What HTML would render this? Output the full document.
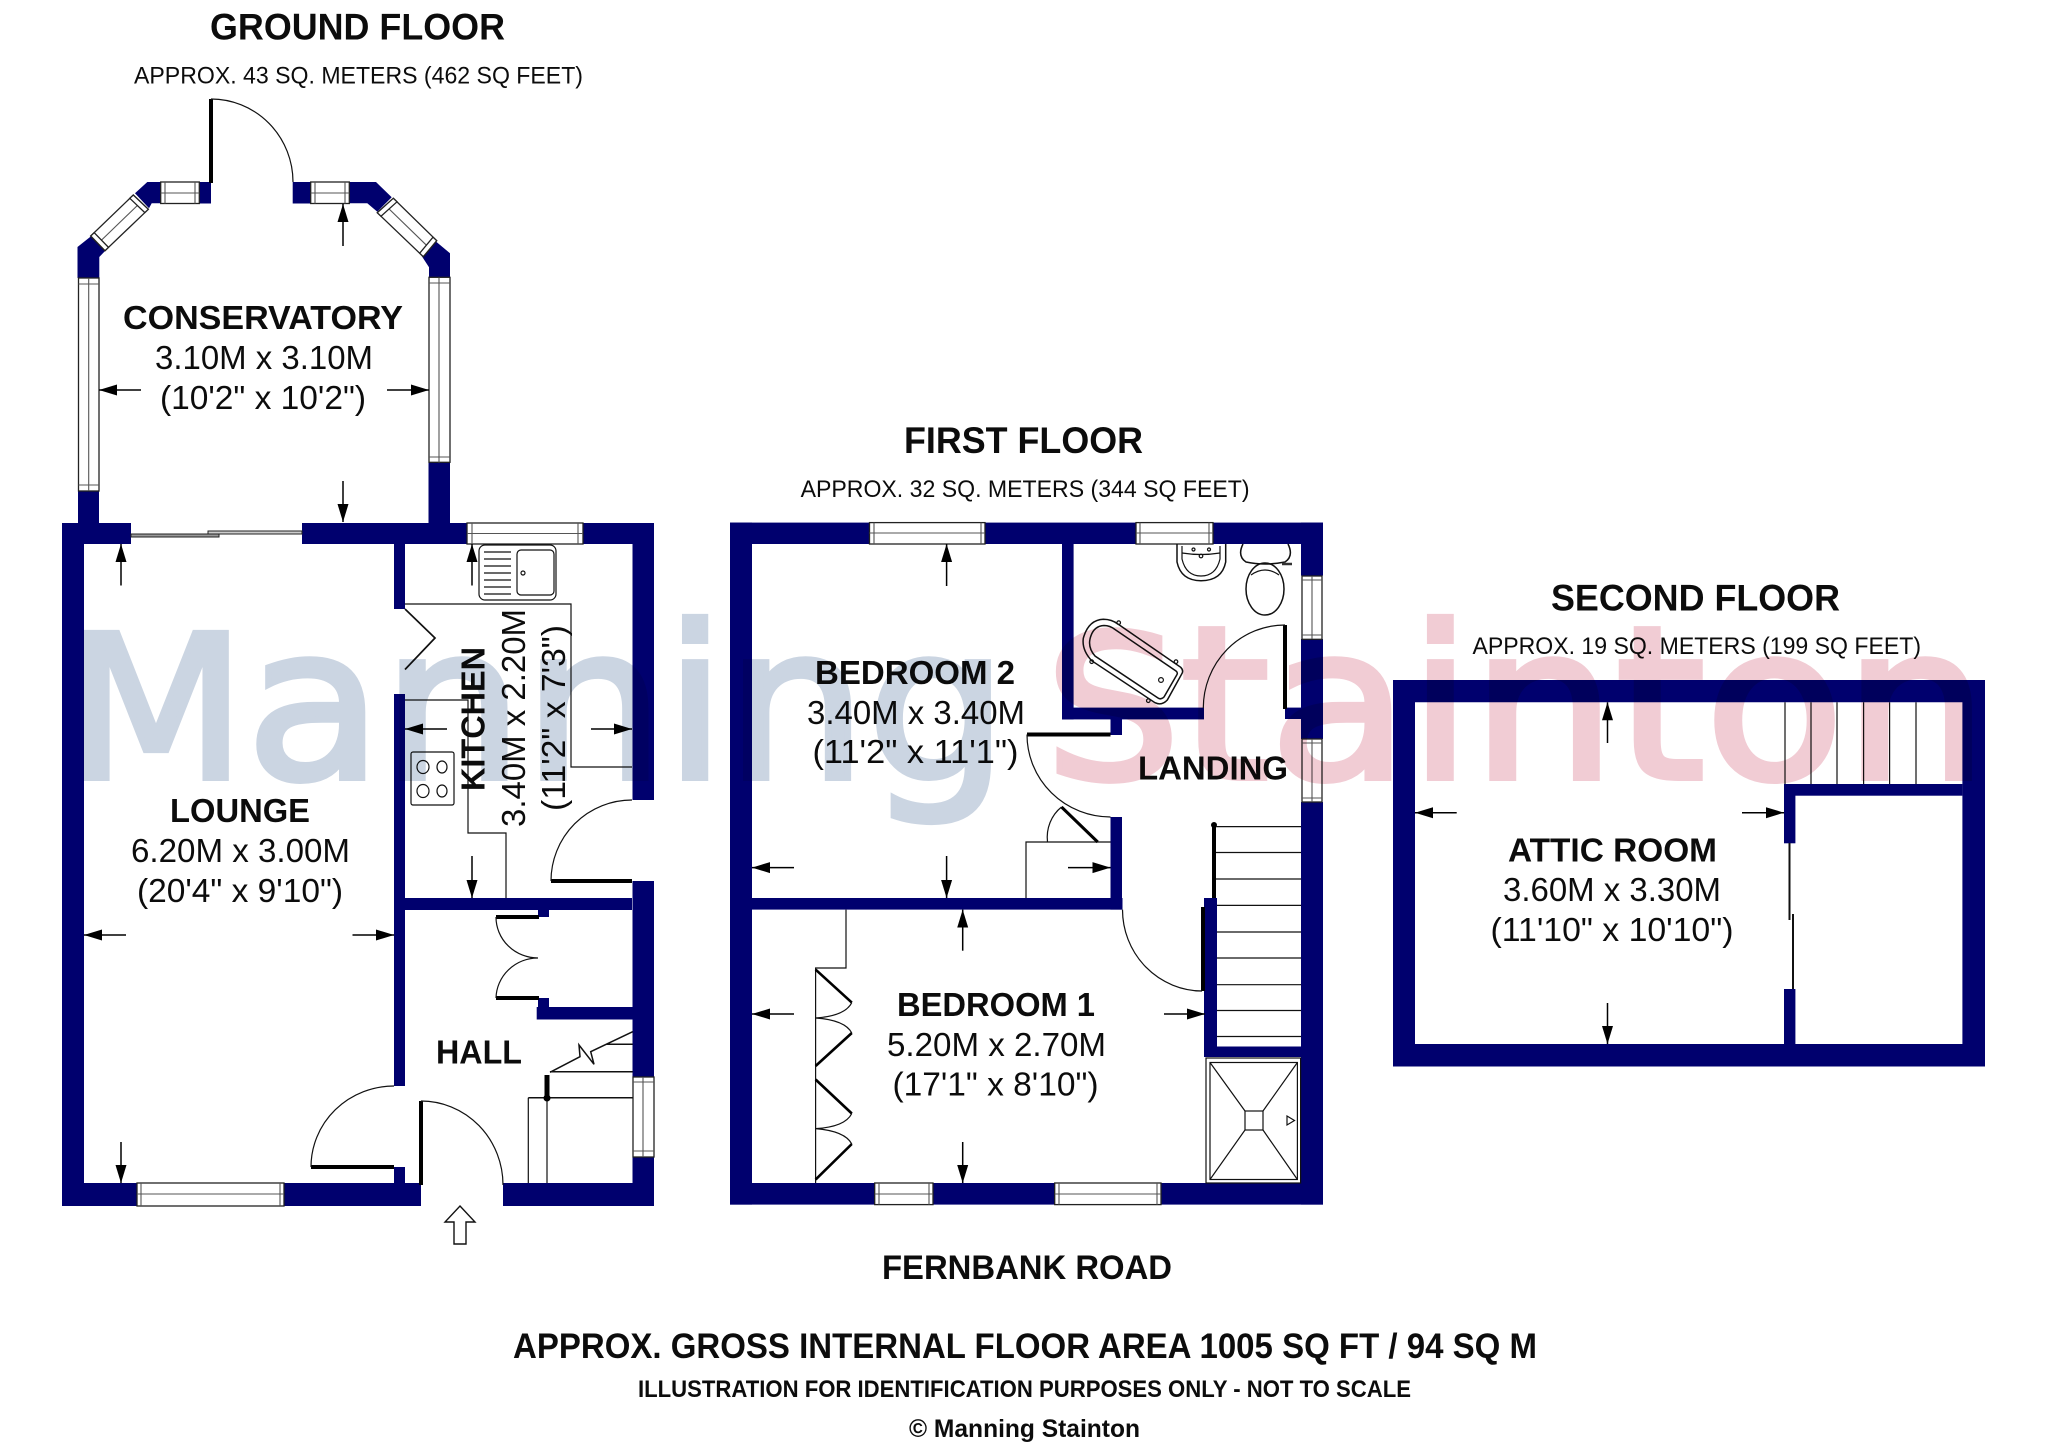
<!DOCTYPE html>
<html><head><meta charset="utf-8"><title>Floor plan</title>
<style>
html,body{margin:0;padding:0;background:#fff}
svg{display:block}
text{font-family:"Liberation Sans",Arial,sans-serif;fill:#0c0c0c}
.b{font-weight:bold}
.w{fill:#00006e;stroke:none}
.l{fill:none;stroke:#111;stroke-width:1.2}
.t{fill:none;stroke:#000;stroke-width:4}
.win{fill:#fff;stroke:#222;stroke-width:1.3}
.wl{fill:none;stroke:#555;stroke-width:1.1}
.ar{fill:none;stroke:#000;stroke-width:1.5;marker-end:url(#a)}
.wm{mix-blend-mode:multiply}
.wm text{font-family:"DejaVu Sans",sans-serif}
</style></head><body>
<svg xmlns="http://www.w3.org/2000/svg" width="2048" height="1454" viewBox="0 0 2048 1454">
<defs><marker id="a" markerUnits="userSpaceOnUse" markerWidth="20" markerHeight="12" refX="18" refY="6" orient="auto"><path d="M0,0.5 L18,6 L0,11.5Z" fill="#000"/></marker></defs>
<rect width="2048" height="1454" fill="#fff"/>

<!-- GROUND FLOOR: conservatory -->
<g>
<rect class="w" x="78" y="491" width="21" height="34"/>
<path class="w" d="M77.5,247 L77.5,278 L99.3,278 L99.3,257 L106,250 L90.7,236.5Z"/>
<path class="w" d="M135,193.3 L147.3,182 L160.7,182 L160.7,203.3 L151.7,203.3 L149,208.3Z"/>
<rect class="w" x="199.3" y="182" width="11.7" height="21.5"/>
<rect class="w" x="292.7" y="182" width="18" height="21.5"/>
<path class="w" d="M349.3,182 L376,182 L391.7,197.3 L377.3,211.7 L367.3,203.3 L349.3,203.3Z"/>
<path class="w" d="M435,240.7 L450,253.3 L450,277.3 L429,277.3 L429,267.3 L421.7,256Z"/>
<rect class="w" x="428.5" y="462.5" width="21.5" height="62"/>
<!-- conservatory windows -->
<rect class="win" x="78.5" y="278" width="20.5" height="213"/><path class="wl" d="M88.7,278V491M78.5,284H99M78.5,485H99"/>
<rect class="win" x="429" y="277.3" width="21" height="185"/><path class="wl" d="M439,277.5V462.5M429,283H450M429,457H450"/>
<rect class="win" x="160.7" y="182" width="38.6" height="21.5"/><path class="wl" d="M160.7,193H199.3M165,182V203.5M195,182V203.5"/>
<rect class="win" x="310.7" y="182" width="38.6" height="21.5"/><path class="wl" d="M310.7,193H349.3M315,182V203.5M345,182V203.5"/>
<path class="win" d="M90.7,236 L105,250.7 L148.3,209.3 L133.3,195Z"/><path class="wl" d="M98,243.5 L141,202"/><path class="win" d="M90.7,236 L105,250.7 L108.5,247.4 L94.2,232.7Z M133.3,195 L148.3,209.3 L144.8,212.6 L129.8,198.3Z"/>
<path class="win" d="M393.3,198.3 L377.3,212.7 L423.3,256.7 L436.7,240.7Z"/><path class="wl" d="M385.5,205.5 L430,248.7"/><path class="win" d="M393.3,198.3 L377.3,212.7 L381,216.2 L397,201.8Z M436.7,240.7 L423.3,256.7 L419.7,253.2 L433,237.2Z"/>
<!-- conservatory door -->
<path class="t" d="M211,99V183"/>
<path class="l" d="M211,99 A82,83 0 0 1 293,182"/>
</g>

<!-- GROUND FLOOR: main walls -->
<g>
<rect class="w" x="62" y="523" width="22" height="683"/>
<rect class="w" x="62" y="523" width="69" height="21"/>
<rect class="w" x="302" y="523" width="165" height="21"/>
<rect class="w" x="583" y="523" width="71" height="21"/>
<rect class="w" x="632.5" y="523" width="21.5" height="277"/>
<rect class="w" x="632.5" y="881" width="21.5" height="196"/>
<rect class="w" x="632.5" y="1157" width="21.5" height="49"/>
<rect class="w" x="62" y="1183" width="75" height="23"/>
<rect class="w" x="284" y="1183" width="137" height="23"/>
<rect class="w" x="503" y="1183" width="151" height="23"/>
<rect class="w" x="394" y="544" width="11" height="65"/>
<rect class="w" x="394" y="694" width="11" height="392"/>
<rect class="w" x="394" y="1167" width="11" height="16"/>
<rect class="w" x="405" y="898" width="227" height="12"/>
<rect class="w" x="538" y="910" width="11" height="7"/>
<rect class="w" x="538" y="998" width="11" height="10"/>
<rect class="w" x="536.7" y="1007" width="96" height="12.5"/>
<!-- slider -->
<rect x="131" y="534" width="88" height="3" fill="#999" stroke="#222" stroke-width="1"/>
<rect x="208" y="531" width="94" height="3" fill="#ccc" stroke="#222" stroke-width="1"/>
<!-- windows -->
<rect class="win" x="467" y="523" width="116" height="21"/><path class="wl" d="M467,533.5H583M472,523V544M578,523V544"/>
<rect class="win" x="137" y="1183" width="147" height="23"/><path class="wl" d="M137,1194H284M141,1183V1206M280,1183V1206"/>
<rect class="win" x="633" y="1077" width="21" height="80"/><path class="wl" d="M643,1077V1157M633,1082H654M633,1151H654"/>
<!-- doors -->
<path class="t" d="M311,1167H394"/><path class="l" d="M311,1167 A83,81 0 0 1 394,1086"/>
<path class="t" d="M421,1101V1185"/><path class="l" d="M421,1101 A82,84 0 0 1 503,1185"/>
<path class="t" d="M551,881H632"/><path class="l" d="M551,881 A81,81 0 0 1 632,800"/>
<!-- kitchen pocket -->
<path class="l" d="M405,609 L435,638 L405,669.5" style="stroke-width:1.7"/>
<!-- kitchen worktops -->
<path class="l" d="M405,604H571V767H632"/>
<path class="l" d="M405,700H468V833H506V898"/>
<!-- sink -->
<rect class="l" x="479" y="545" width="77" height="55" rx="6"/>
<rect class="l" x="517" y="550" width="37" height="45" rx="4"/>
<path class="l" d="M484,552H511M484,559H511M484,566H511M484,573H511M484,580H511M484,587H511M484,594H511"/>
<circle class="l" cx="523" cy="573" r="2"/>
<!-- hob -->
<rect class="l" x="411" y="752" width="43" height="53" rx="2"/>
<ellipse class="l" cx="423" cy="767" rx="6" ry="6.5"/><ellipse class="l" cx="442" cy="767" rx="5" ry="6"/>
<ellipse class="l" cx="423" cy="791" rx="6" ry="6.5"/><ellipse class="l" cx="442" cy="791" rx="5" ry="6"/>
<!-- hall cupboard doors -->
<path class="t" d="M496,917H539"/><path class="t" d="M496,998H539"/>
<path class="l" d="M496,917 A42,41 0 0 0 538,958 A42,41 0 0 0 496,998"/>
<!-- hall stairs -->
<path class="l" style="stroke-width:1.5" d="M550,1072.3 L580,1056.7 L579,1045 L594,1064.3 L590.7,1051.7 L632.7,1031.7M606.7,1044.3H632.7M550,1071.7H632.7M528.3,1097.7H632.7"/>
<path class="l" d="M528.3,1097.7V1183M547,1097.7V1183"/>
<path class="t" style="stroke-width:5" d="M547,1075V1098"/><circle cx="547" cy="1098" r="3.5" fill="#000"/>
<!-- entrance arrow -->
<path d="M460,1206 L475,1222 L466,1222 L466,1244 L454,1244 L454,1222 L445,1222Z" fill="#fff" stroke="#111" stroke-width="1.4"/>
</g>

<!-- FIRST FLOOR -->
<g>
<rect class="w" x="730" y="522.6" width="22" height="682"/>
<rect class="w" x="730" y="522.6" width="139.5" height="21.4"/>
<rect class="w" x="985" y="522.6" width="151" height="21.4"/>
<rect class="w" x="1213" y="522.6" width="110" height="21.4"/>
<rect class="w" x="1301" y="522.6" width="22" height="53"/>
<rect class="w" x="1301" y="639" width="22" height="100"/>
<rect class="w" x="1301" y="802" width="22" height="402.6"/>
<rect class="w" x="730" y="1183" width="144.7" height="21.6"/>
<rect class="w" x="933" y="1183" width="121.7" height="21.6"/>
<rect class="w" x="1161" y="1183" width="162" height="21.6"/>
<rect class="w" x="1062" y="544" width="11.6" height="175.5"/>
<rect class="w" x="1062" y="707.6" width="142" height="11.8"/>
<rect class="w" x="1285" y="707.6" width="16" height="11.4"/>
<rect class="w" x="1110.5" y="719" width="11.5" height="16"/>
<rect class="w" x="1110.5" y="817" width="11.5" height="92.6"/>
<rect class="w" x="752" y="898" width="370.5" height="11.6"/>
<rect class="w" x="1204" y="898" width="13" height="159"/>
<rect class="w" x="1204" y="1046.5" width="97" height="10.5"/>
<!-- windows -->
<rect class="win" x="869.5" y="522.6" width="115.5" height="21.4"/><path class="wl" d="M869.5,533H985M874,522.6V544M981,522.6V544"/>
<rect class="win" x="1136" y="522.6" width="77" height="21.4"/><path class="wl" d="M1136,533H1213M1140,522.6V544M1209,522.6V544"/>
<rect class="win" x="874.7" y="1183" width="58.3" height="21.6"/><path class="wl" d="M874.7,1194H933M879,1183V1204.6M929,1183V1204.6"/>
<rect class="win" x="1054.7" y="1183" width="106.3" height="21.6"/><path class="wl" d="M1054.7,1194H1161M1059,1183V1204.6M1157,1183V1204.6"/>
<rect class="win" x="1302" y="576" width="20" height="63.3"/><path class="wl" d="M1312,576V639M1302,580H1322M1302,635H1322"/>
<rect class="win" x="1302" y="739" width="20" height="63"/><path class="wl" d="M1312,739V802M1302,743H1322M1302,798H1322"/>
<!-- doors -->
<path class="t" d="M1027,734.5H1110.5"/><path class="l" d="M1027,734.5 A83.5,82.5 0 0 0 1110.5,817"/>
<path class="t" d="M1203,907V991"/><path class="l" d="M1122.5,909.6 A80,81.4 0 0 0 1202,991"/>
<path class="t" d="M1285,625V709"/><path class="l" d="M1285,625 A81.7,83 0 0 0 1203.3,708"/>
<!-- stairs -->
<path class="t" d="M1214,825V898"/><circle cx="1214" cy="825" r="3" fill="#000"/>
<path class="l" d="M1216,826.6H1301M1216,852.5H1301M1216,879H1301M1217,905.4H1301M1217,932H1301M1217,958H1301M1217,984.7H1301M1217,1010.5H1301M1217,1036.5H1301"/>
<!-- shower -->
<rect class="l" x="1206" y="1058" width="94.6" height="125"/>
<rect class="l" x="1210" y="1062.5" width="87.4" height="117"/>
<rect class="l" x="1245" y="1111" width="18" height="19"/>
<path class="l" d="M1210,1062.5 L1245,1111M1297.4,1062.5 L1263,1111M1210,1179.5 L1245,1130M1297.4,1179.5 L1263,1130"/>
<path class="l" d="M1287,1116 L1294.5,1120.5 L1287,1125Z"/>
<!-- cupboard bed 2 -->
<path class="l" d="M1026,898V842H1110.5"/>
<path class="t" d="M1061.5,807 L1097.7,842" style="stroke-width:3"/>
<path class="l" d="M1061.5,807 A36,38 0 0 0 1047.5,842"/>
<!-- wardrobe -->
<path class="l" d="M846,909.6V968H815.6V1183"/>
<path class="t" style="stroke-width:2.6" d="M815.6,969.6 L851.8,1002.6M815.6,1066 L851.8,1033M815.6,1079.5 L851.8,1113.5M815.6,1179.6 L851.8,1144"/>
<path class="l" d="M851.8,1002.6 Q845,1016 815.6,1018 Q845,1020 851.8,1033M851.8,1113.5 Q845,1127 815.6,1128.6 Q845,1131 851.8,1144"/>
<!-- basin -->
<path class="l" style="stroke-width:1.5" d="M1177,544V562 Q1181,580.7 1201,580.7 Q1222,580.7 1225.7,562V544"/>
<path class="l" d="M1182,546V559 Q1186,576 1201,576 Q1216,576 1220,559V546"/>
<path class="l" d="M1182,553 Q1201,556 1220,553"/>
<circle class="l" cx="1201" cy="556" r="1.8"/><circle class="l" cx="1193.5" cy="549.5" r="1.5"/><circle class="l" cx="1209" cy="549.5" r="1.5"/>
<!-- toilet -->
<path class="l" style="stroke-width:1.5" d="M1243,544 Q1237,556 1246,562 Q1265,566 1285,562 Q1294,556 1288,544"/>
<ellipse class="l" style="stroke-width:1.5" cx="1265" cy="589" rx="19" ry="26"/>
<path class="l" d="M1251,575 Q1265,565 1279,575"/>
<path d="M1282,564H1292" stroke="#333" stroke-width="2.5" fill="none"/>
<!-- bath -->
<path class="l" style="stroke-width:1.5" d="M1118.3,624.3 L1180.7,667.3 Q1184,670.7 1181.7,674 L1167.3,700 Q1161.7,706 1155,702.7 L1091.7,660.7 Q1081.7,650 1083.3,638.3 Q1088.3,620 1103.3,619.3 Q1111.7,619.3 1118.3,624.3Z"/>
<path class="l" style="stroke-width:1.5" d="M1115,629.5 L1176,671 Q1178,672.5 1177,674.5 L1164,697 Q1161,700 1158,698 L1095,656 Q1088,648 1090,639 Q1093,626 1104,625.5 Q1110,625.5 1115,629.5Z"/>
<circle class="l" cx="1161" cy="680" r="2.4"/>
<circle class="l" cx="1118.7" cy="622.7" r="1.8"/><circle class="l" cx="1176" cy="661.7" r="1.8"/><circle class="l" cx="1091.7" cy="661.7" r="1.8"/><circle class="l" cx="1148.3" cy="700.7" r="1.8"/>
</g>

<!-- SECOND FLOOR -->
<g>
<path class="w" fill-rule="evenodd" d="M1393,680H1985V1066.5H1393Z M1415,702.3V1044H1962.4V702.3Z"/>
<rect class="w" x="1784" y="784" width="11.4" height="59.3"/>
<rect class="w" x="1784" y="989" width="11.4" height="55"/>
<rect class="w" x="1784" y="784" width="178.4" height="11.7"/>
<path class="l" d="M1785,702.3V784M1811,702.3V784M1837,702.3V784M1863.6,702.3V784M1889.6,702.3V784M1916,702.3V784"/>
<path d="M1789.5,843V920M1793,914V989" fill="none" stroke="#111" stroke-width="2"/>
</g>

<!-- dimension arrows -->
<g>
<path class="ar" d="M343,246V204"/><path class="ar" d="M141,390H99"/><path class="ar" d="M387,390H429"/><path class="ar" d="M343,481V522"/>
<path class="ar" d="M121,585.5V544"/><path class="ar" d="M126,935H84"/><path class="ar" d="M352.5,935H394"/><path class="ar" d="M121,1142V1183"/>
<path class="ar" d="M472,585.5V544"/><path class="ar" d="M447,729H405"/><path class="ar" d="M591,729H632"/><path class="ar" d="M472,856V898"/>
<path class="ar" d="M946.6,586V544"/><path class="ar" d="M794,867.6H752"/><path class="ar" d="M946.6,856V898"/><path class="ar" d="M1068,867.6H1110.5"/>
<path class="ar" d="M962.7,950.7V909.6"/><path class="ar" d="M794,1014H752"/><path class="ar" d="M1164,1014H1205"/><path class="ar" d="M962.7,1142V1183"/>
<path class="ar" d="M1607.5,743V702.3"/><path class="ar" d="M1456.7,812.7H1415"/><path class="ar" d="M1742,812.7H1784"/><path class="ar" d="M1607.5,1003V1044"/>
</g>

<!-- labels -->
<g font-size="33">
<text class="b" x="210" y="39.5" font-size="37" textLength="295" lengthAdjust="spacingAndGlyphs">GROUND FLOOR</text>
<text x="134" y="83.5" font-size="24" textLength="449" lengthAdjust="spacingAndGlyphs">APPROX. 43 SQ. METERS (462 SQ FEET)</text>
<text class="b" x="123" y="329" textLength="280" lengthAdjust="spacingAndGlyphs">CONSERVATORY</text>
<text x="155" y="369" textLength="218" lengthAdjust="spacingAndGlyphs">3.10M x 3.10M</text>
<text x="160" y="409" textLength="206" lengthAdjust="spacingAndGlyphs">(10'2" x 10'2")</text>
<text class="b" x="170" y="822" textLength="140" lengthAdjust="spacingAndGlyphs">LOUNGE</text>
<text x="131" y="862" textLength="219" lengthAdjust="spacingAndGlyphs">6.20M x 3.00M</text>
<text x="137" y="902" textLength="206" lengthAdjust="spacingAndGlyphs">(20'4" x 9'10")</text>
<text class="b" x="436" y="1063.6" textLength="86" lengthAdjust="spacingAndGlyphs">HALL</text>
<text class="b" transform="translate(484.4,791) rotate(-90)" textLength="144" lengthAdjust="spacingAndGlyphs">KITCHEN</text>
<text transform="translate(525,827) rotate(-90)" textLength="218" lengthAdjust="spacingAndGlyphs">3.40M x 2.20M</text>
<text transform="translate(565,811) rotate(-90)" textLength="186" lengthAdjust="spacingAndGlyphs">(11'2" x 7'3")</text>

<text class="b" x="904" y="453" font-size="37" textLength="239" lengthAdjust="spacingAndGlyphs">FIRST FLOOR</text>
<text x="800.6" y="497" font-size="24" textLength="449" lengthAdjust="spacingAndGlyphs">APPROX. 32 SQ. METERS (344 SQ FEET)</text>
<text class="b" x="815" y="684" textLength="200" lengthAdjust="spacingAndGlyphs">BEDROOM 2</text>
<text x="807" y="724" textLength="218" lengthAdjust="spacingAndGlyphs">3.40M x 3.40M</text>
<text x="812.5" y="763" textLength="206" lengthAdjust="spacingAndGlyphs">(11'2" x 11'1")</text>
<text class="b" x="1138" y="779.4" textLength="150" lengthAdjust="spacingAndGlyphs">LANDING</text>
<text class="b" x="897" y="1016" textLength="198" lengthAdjust="spacingAndGlyphs">BEDROOM 1</text>
<text x="887" y="1056" textLength="219" lengthAdjust="spacingAndGlyphs">5.20M x 2.70M</text>
<text x="892.5" y="1095.6" textLength="206" lengthAdjust="spacingAndGlyphs">(17'1" x 8'10")</text>

<text class="b" x="1551" y="610.7" font-size="37" textLength="289" lengthAdjust="spacingAndGlyphs">SECOND FLOOR</text>
<text x="1472.5" y="654" font-size="24" textLength="448.5" lengthAdjust="spacingAndGlyphs">APPROX. 19 SQ. METERS (199 SQ FEET)</text>
<text class="b" x="1508" y="861.7" textLength="209" lengthAdjust="spacingAndGlyphs">ATTIC ROOM</text>
<text x="1503" y="901" textLength="218" lengthAdjust="spacingAndGlyphs">3.60M x 3.30M</text>
<text x="1490.5" y="941" textLength="243" lengthAdjust="spacingAndGlyphs">(11'10" x 10'10")</text>

<text class="b" x="882" y="1279" font-size="34" textLength="290" lengthAdjust="spacingAndGlyphs">FERNBANK ROAD</text>
<text class="b" x="513" y="1358" font-size="35" textLength="1024" lengthAdjust="spacingAndGlyphs">APPROX. GROSS INTERNAL FLOOR AREA 1005 SQ FT / 94 SQ M</text>
<text class="b" x="638" y="1397" font-size="24" textLength="773" lengthAdjust="spacingAndGlyphs">ILLUSTRATION FOR IDENTIFICATION PURPOSES ONLY - NOT TO SCALE</text>
<text class="b" x="909" y="1437" font-size="25" textLength="231" lengthAdjust="spacingAndGlyphs">© Manning Stainton</text>
</g>

<!-- watermark -->
<g class="wm">
<text x="66" y="778" style="fill:#cbd5e2" stroke="#cbd5e2" stroke-width="6" textLength="942" lengthAdjust="spacingAndGlyphs"><tspan font-size="199">M</tspan><tspan font-size="212">anning</tspan></text>
<text x="1045" y="778" style="fill:#f1ccd4" stroke="#f1ccd4" stroke-width="6" textLength="943" lengthAdjust="spacingAndGlyphs"><tspan font-size="199">S</tspan><tspan font-size="212">tainton</tspan></text>
</g>
</svg>
</body></html>
